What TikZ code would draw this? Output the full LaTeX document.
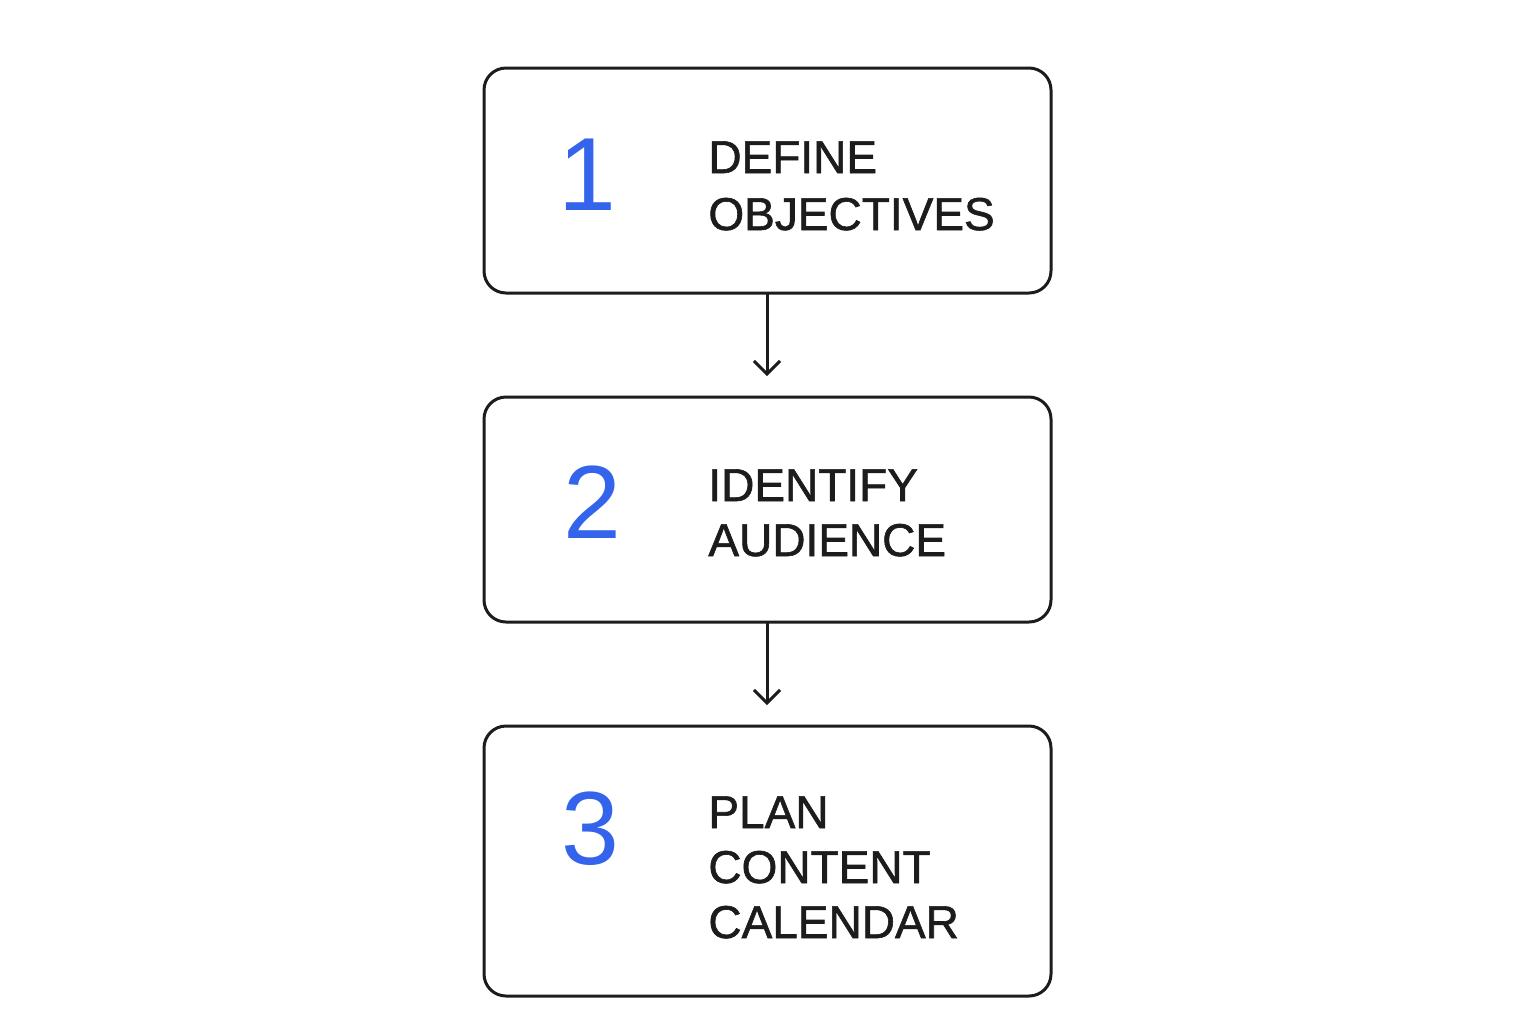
\documentclass[tikz,border=0pt]{standalone}
\usepackage{fontspec}
\setmainfont{Liberation Sans}
\newfontfamily\labelfont[FakeBold=1.3]{Liberation Sans}
\usetikzlibrary{arrows.meta}
\definecolor{numblue}{RGB}{52,100,235}
\definecolor{ink}{RGB}{28,28,28}
\tikzset{
  stepbox/.style={draw=ink, line width=1.5pt, rounded corners=11pt, fill=white},
  numlabel/.style={text=numblue, font=\fontsize{52}{52}\selectfont, inner sep=0pt},
  steptext/.style={text=ink, font=\labelfont\fontsize{23}{28}\selectfont, align=left, inner sep=0pt, anchor=base west},
  flow/.style={draw=ink, line width=1.5pt, -{Straight Barb[length=6.5pt,width=13pt,line width=1.5pt]}}
}
\begin{document}
\begin{tikzpicture}[x=0.5pt,y=-0.5pt]
\useasboundingbox[fill=white] (0,0) rectangle (1536,1024);
% boxes
\draw[stepbox] (484,68) rectangle (1051,293);
\draw[stepbox] (484,397) rectangle (1051,622);
\draw[stepbox] (484,726) rectangle (1051,996);
\coordinate (b1s) at (767,293);
\coordinate (b2n) at (767,376);
\coordinate (b2s) at (767,622);
\coordinate (b3n) at (767,705);
% numbers
\node[numlabel] (n1) at (587,175) {1};
\node[numlabel] (n2) at (592,502) {2};
\node[numlabel] (n3) at (590,829) {3};
% texts
\node[steptext] (t1a) at (708,173) {DEFINE};
\node[steptext] (t1b) at (708,230) {OBJECTIVES};
\node[steptext] (t2a) at (708,501) {IDENTIFY};
\node[steptext] (t2b) at (708,556) {AUDIENCE};
\node[steptext] (t3a) at (708,828) {PLAN};
\node[steptext] (t3b) at (708,883) {CONTENT};
\node[steptext] (t3c) at (708,938) {CALENDAR};
% arrows
\draw[flow] (b1s) -- (b2n);
\draw[flow] (b2s) -- (b3n);
\end{tikzpicture}
\end{document}
